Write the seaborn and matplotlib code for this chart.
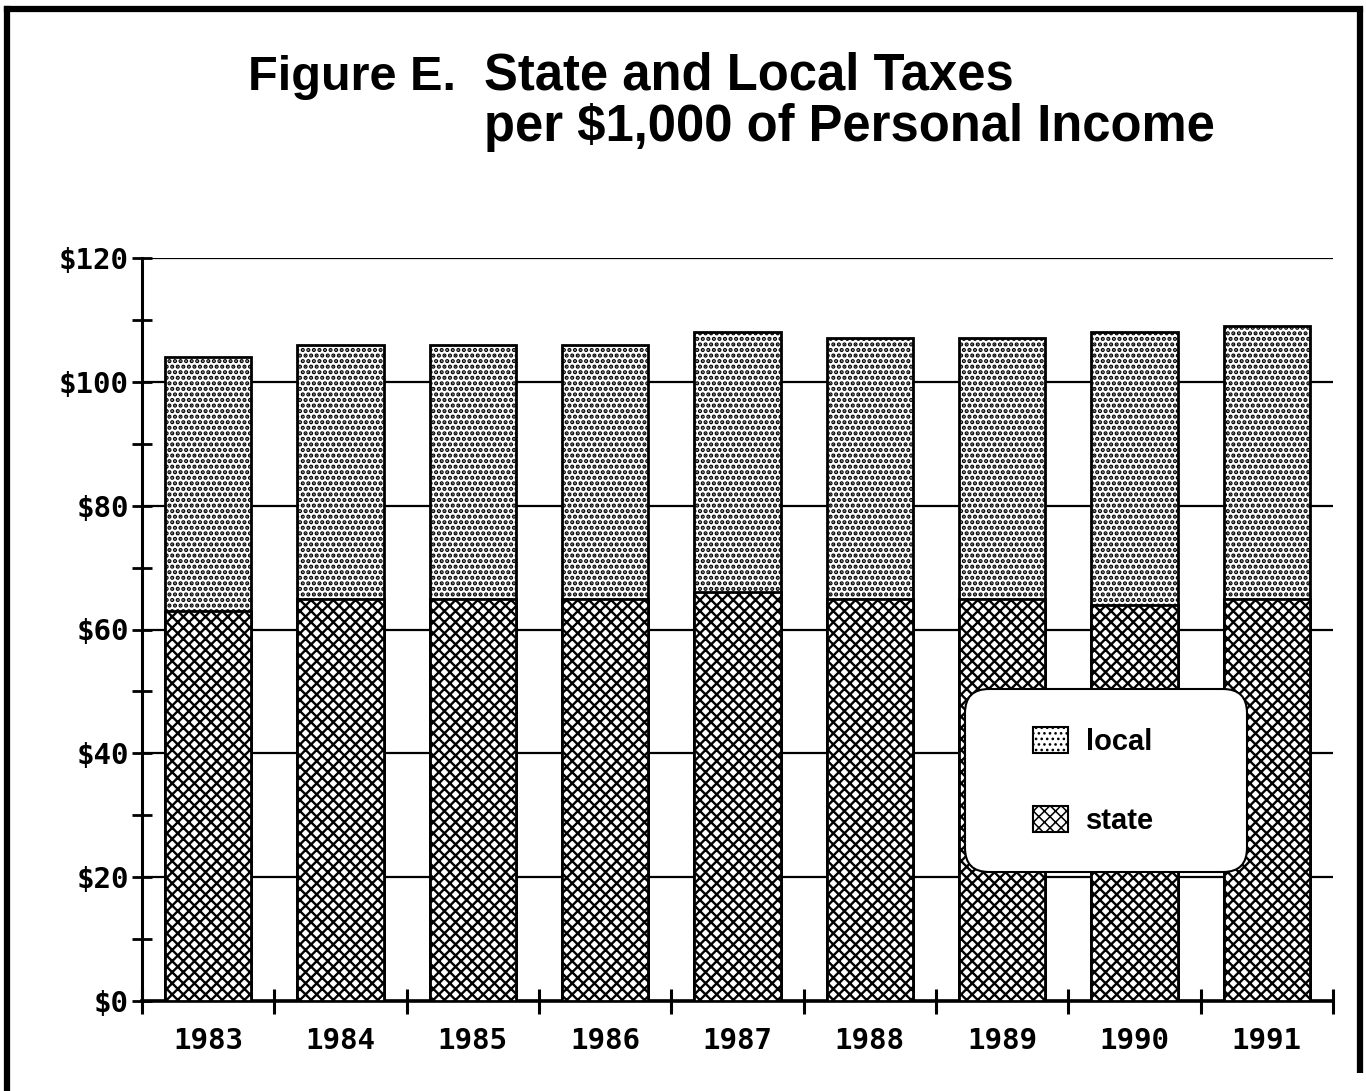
import numpy as np
import pandas as pd
import matplotlib
matplotlib.use("Agg")
import matplotlib.pyplot as plt
import seaborn as sns
from matplotlib.patches import Patch, FancyBboxPatch
from matplotlib.lines import Line2D
from matplotlib.ticker import MultipleLocator, FixedLocator
from matplotlib.transforms import IdentityTransform

# ---- data ----
years = ["1983", "1984", "1985", "1986", "1987", "1988", "1989", "1990", "1991"]
state = [63, 65, 65, 65, 66, 65, 65, 64, 65]
local = [41, 41, 41, 41, 42, 42, 42, 44, 44]
yticks = [0, 20, 40, 60, 80, 100, 120]
ytick_labels = ["$0", "$20", "$40", "$60", "$80", "$100", "$120"]
series_labels = ["local", "state"]
title_lead = "Figure E."
title_lines = ["State and Local Taxes", "per $1,000 of Personal Income"]

total = [s + l for s, l in zip(state, local)]
df = pd.DataFrame({"year": years, "state": state, "local": local, "total": total})

sns.set_style("white")
plt.rcParams["font.family"] = ["Liberation Sans", "DejaVu Sans"]
plt.rcParams["text.color"] = "black"
plt.rcParams["xtick.color"] = "black"
plt.rcParams["ytick.color"] = "black"
plt.rcParams["hatch.color"] = "black"
plt.rcParams["hatch.linewidth"] = 1.1

W, H = 1366, 1091
fig = plt.figure(figsize=(W / 100, H / 100), dpi=100)
ax = fig.add_axes([142 / W, 1 - 1001 / H, (1333 - 142) / W, (1001 - 258) / H])

LOCAL_HATCH = "..."
STATE_HATCH = "xxx"
LOCAL_HLW = 2.1
STATE_HLW = 1.7


def style_patch(p, hatch, hlw):
    p.set_hatch(hatch)
    p.set_facecolor("white")
    if hasattr(p, "set_hatch_linewidth"):
        p.set_hatch_linewidth(hlw)


sns.barplot(data=df, x="year", y="total", color="white", width=0.65,
            edgecolor="black", linewidth=2, ax=ax, zorder=2)
sns.barplot(data=df, x="year", y="state", color="white", width=0.65,
            edgecolor="black", linewidth=2, ax=ax, zorder=3)
for p in ax.containers[0]:
    style_patch(p, LOCAL_HATCH, LOCAL_HLW)
for p in ax.containers[1]:
    style_patch(p, STATE_HATCH, STATE_HLW)

ax.set_xlim(-0.5, len(years) - 0.5)
ax.set_ylim(0, 120)
ax.set_xlabel("")
ax.set_ylabel("")

# grid
ax.set_axisbelow(True)
ax.yaxis.grid(True, color="black", linewidth=1.6)
ax.xaxis.grid(False)

# spines
for s in ["top", "right"]:
    ax.spines[s].set_visible(False)
ax.spines["left"].set_linewidth(2.2)
ax.spines["bottom"].set_linewidth(2.6)
ax.spines["left"].set_color("black")
ax.spines["bottom"].set_color("black")

mono = ["DejaVu Sans Mono"]
ax.set_yticks(yticks)
ax.set_yticklabels(ytick_labels, fontsize=21, family=mono, fontweight="bold")
ax.yaxis.set_minor_locator(MultipleLocator(10))
ax.tick_params(axis="y", which="both", direction="inout", length=15,
               width=2, color="black", left=True, pad=4)
ax.tick_params(axis="y", which="major", pad=2)

ax.set_xticks(range(len(years)))
ax.set_xticklabels(years, fontsize=21, family=mono, fontweight="bold")
ax.xaxis.set_minor_locator(FixedLocator(np.arange(-0.5, len(years), 1.0)))
ax.tick_params(axis="x", which="major", length=0, pad=19)
ax.tick_params(axis="x", which="minor", direction="inout", length=18,
               width=2.2, color="black", bottom=True)

# legend box (rounded, white) in pixel coordinates
box = FancyBboxPatch((965, H - 872), 1247 - 965, 872 - 689,
                     boxstyle="round,pad=0,rounding_size=24",
                     transform=IdentityTransform(), facecolor="white",
                     edgecolor="black", linewidth=1.5, zorder=5)
fig.patches.append(box)
box.set_figure(fig)

h_local = Patch(facecolor="white", edgecolor="black", hatch=LOCAL_HATCH, linewidth=1.5)
h_state = Patch(facecolor="white", edgecolor="black", hatch=STATE_HATCH, linewidth=1.5)
for h, lw in [(h_local, LOCAL_HLW), (h_state, STATE_HLW)]:
    if hasattr(h, "set_hatch_linewidth"):
        h.set_hatch_linewidth(lw)
leg = fig.legend([h_local, h_state], series_labels, loc="upper left",
                 bbox_to_anchor=(1033 / W, 1 - 727 / H), frameon=False,
                 prop={"size": 21, "weight": "bold"}, borderpad=0, borderaxespad=0,
                 handlelength=1.2, handleheight=1.0, handletextpad=0.6,
                 labelspacing=1.7)
leg.set_zorder(6)

# title
fig.text(248 / W, 1 - 90 / H, title_lead, fontsize=35, fontweight="bold",
         ha="left", va="baseline")
fig.text(484 / W, 1 - 90 / H, title_lines[0], fontsize=36.5, fontweight="bold",
         ha="left", va="baseline")
fig.text(484 / W, 1 - 141 / H, title_lines[1], fontsize=36.5, fontweight="bold",
         ha="left", va="baseline")

# outer frame
fx = lambda px: px / W
fy = lambda py: 1 - py / H
fig.add_artist(Line2D([fx(7), fx(7)], [0, fy(9)], color="black", linewidth=4.5,
                      transform=fig.transFigure, solid_capstyle="projecting"))
fig.add_artist(Line2D([fx(7), fx(1360)], [fy(9), fy(9)], color="black", linewidth=4.5,
                      transform=fig.transFigure, solid_capstyle="projecting"))
fig.add_artist(Line2D([fx(1360), fx(1360)], [fy(9), fy(1073)], color="black", linewidth=4.5,
                      transform=fig.transFigure, solid_capstyle="butt"))

fig.savefig("out.png", dpi=100, facecolor="white")
